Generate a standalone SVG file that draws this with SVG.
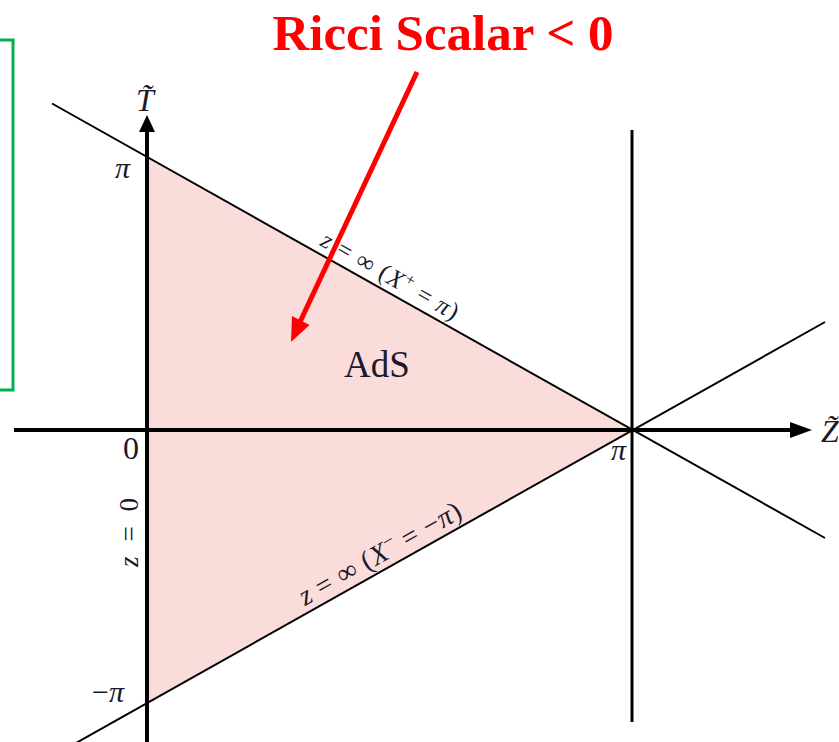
<svg xmlns="http://www.w3.org/2000/svg" width="839" height="742" viewBox="0 0 839 742">
<style>
.thin{stroke:#000;stroke-width:2;fill:none}
.axis{stroke:#000;stroke-width:4;fill:none}
.m{font-family:"Liberation Serif","DejaVu Serif",serif;fill:#1a1a2a}
.it{font-style:italic}
</style>
<rect width="839" height="742" fill="#fff"/>
<!-- green box edge -->
<polyline points="-5,40 13,40 13,390 -5,390" fill="none" stroke="#00B050" stroke-width="3"/>
<!-- AdS region -->
<g id="ads-region">
<polygon points="147,157 632,430 147,703" fill="#FADCDA"/>
</g>
<g id="lines">
<line class="thin" x1="52" y1="103.5" x2="825" y2="538"/>
<line class="thin" x1="60" y1="752" x2="825" y2="322"/>
<line x1="632" y1="130" x2="632" y2="722" stroke="#000" stroke-width="3"/>
</g>
<g id="axes">
<line class="axis" x1="14" y1="430" x2="792" y2="430"/>
<polygon points="812,430 790,422 790,438" fill="#000"/>
<line class="axis" x1="147" y1="742" x2="147" y2="132"/>
<polygon points="147,115 139,132 155,132" fill="#000"/>
</g>
<g id="labels">
<text class="m it" x="136" y="111" font-size="32">T&#x303;</text>
<text class="m it" x="821" y="442" font-size="32">Z&#x303;</text>
<text class="m it" x="115" y="178" font-size="30">π</text>
<text class="m" x="123" y="459" font-size="32">0</text>
<text class="m it" x="611" y="460" font-size="30">π</text>
<text class="m" x="92" y="702" font-size="30">−<tspan class="it">π</tspan></text>
<text class="m" transform="translate(138,567) rotate(-90)" font-size="27" textLength="69" lengthAdjust="spacing"><tspan class="it">z</tspan> = 0</text>
<text class="m" x="344" y="377" font-size="37">AdS</text>
<text class="m" transform="translate(319,245) rotate(29.4)" font-size="25" textLength="154" lengthAdjust="spacing"><tspan class="it">z</tspan> = ∞ (<tspan class="it">X</tspan><tspan font-size="17" dy="-9">+</tspan><tspan dy="9"> = </tspan><tspan class="it">π</tspan>)</text>
<text class="m" transform="translate(305,606) rotate(-29.4)" font-size="28" textLength="182" lengthAdjust="spacing"><tspan class="it">z</tspan> = ∞ (<tspan class="it">X</tspan><tspan font-size="19" dy="-10">−</tspan><tspan dy="10"> = −</tspan><tspan class="it">π</tspan>)</text>
</g>
<g id="annotation">
<text x="443" y="50" text-anchor="middle" font-family="Liberation Serif, serif" font-weight="bold" font-size="51" fill="#FF0000">Ricci Scalar &lt; 0</text>
<line x1="417" y1="72" x2="300" y2="322" stroke="#FF0000" stroke-width="5"/>
<polygon points="291,342 309.5,325 292,316" fill="#FF0000"/>
</g>
</svg>
